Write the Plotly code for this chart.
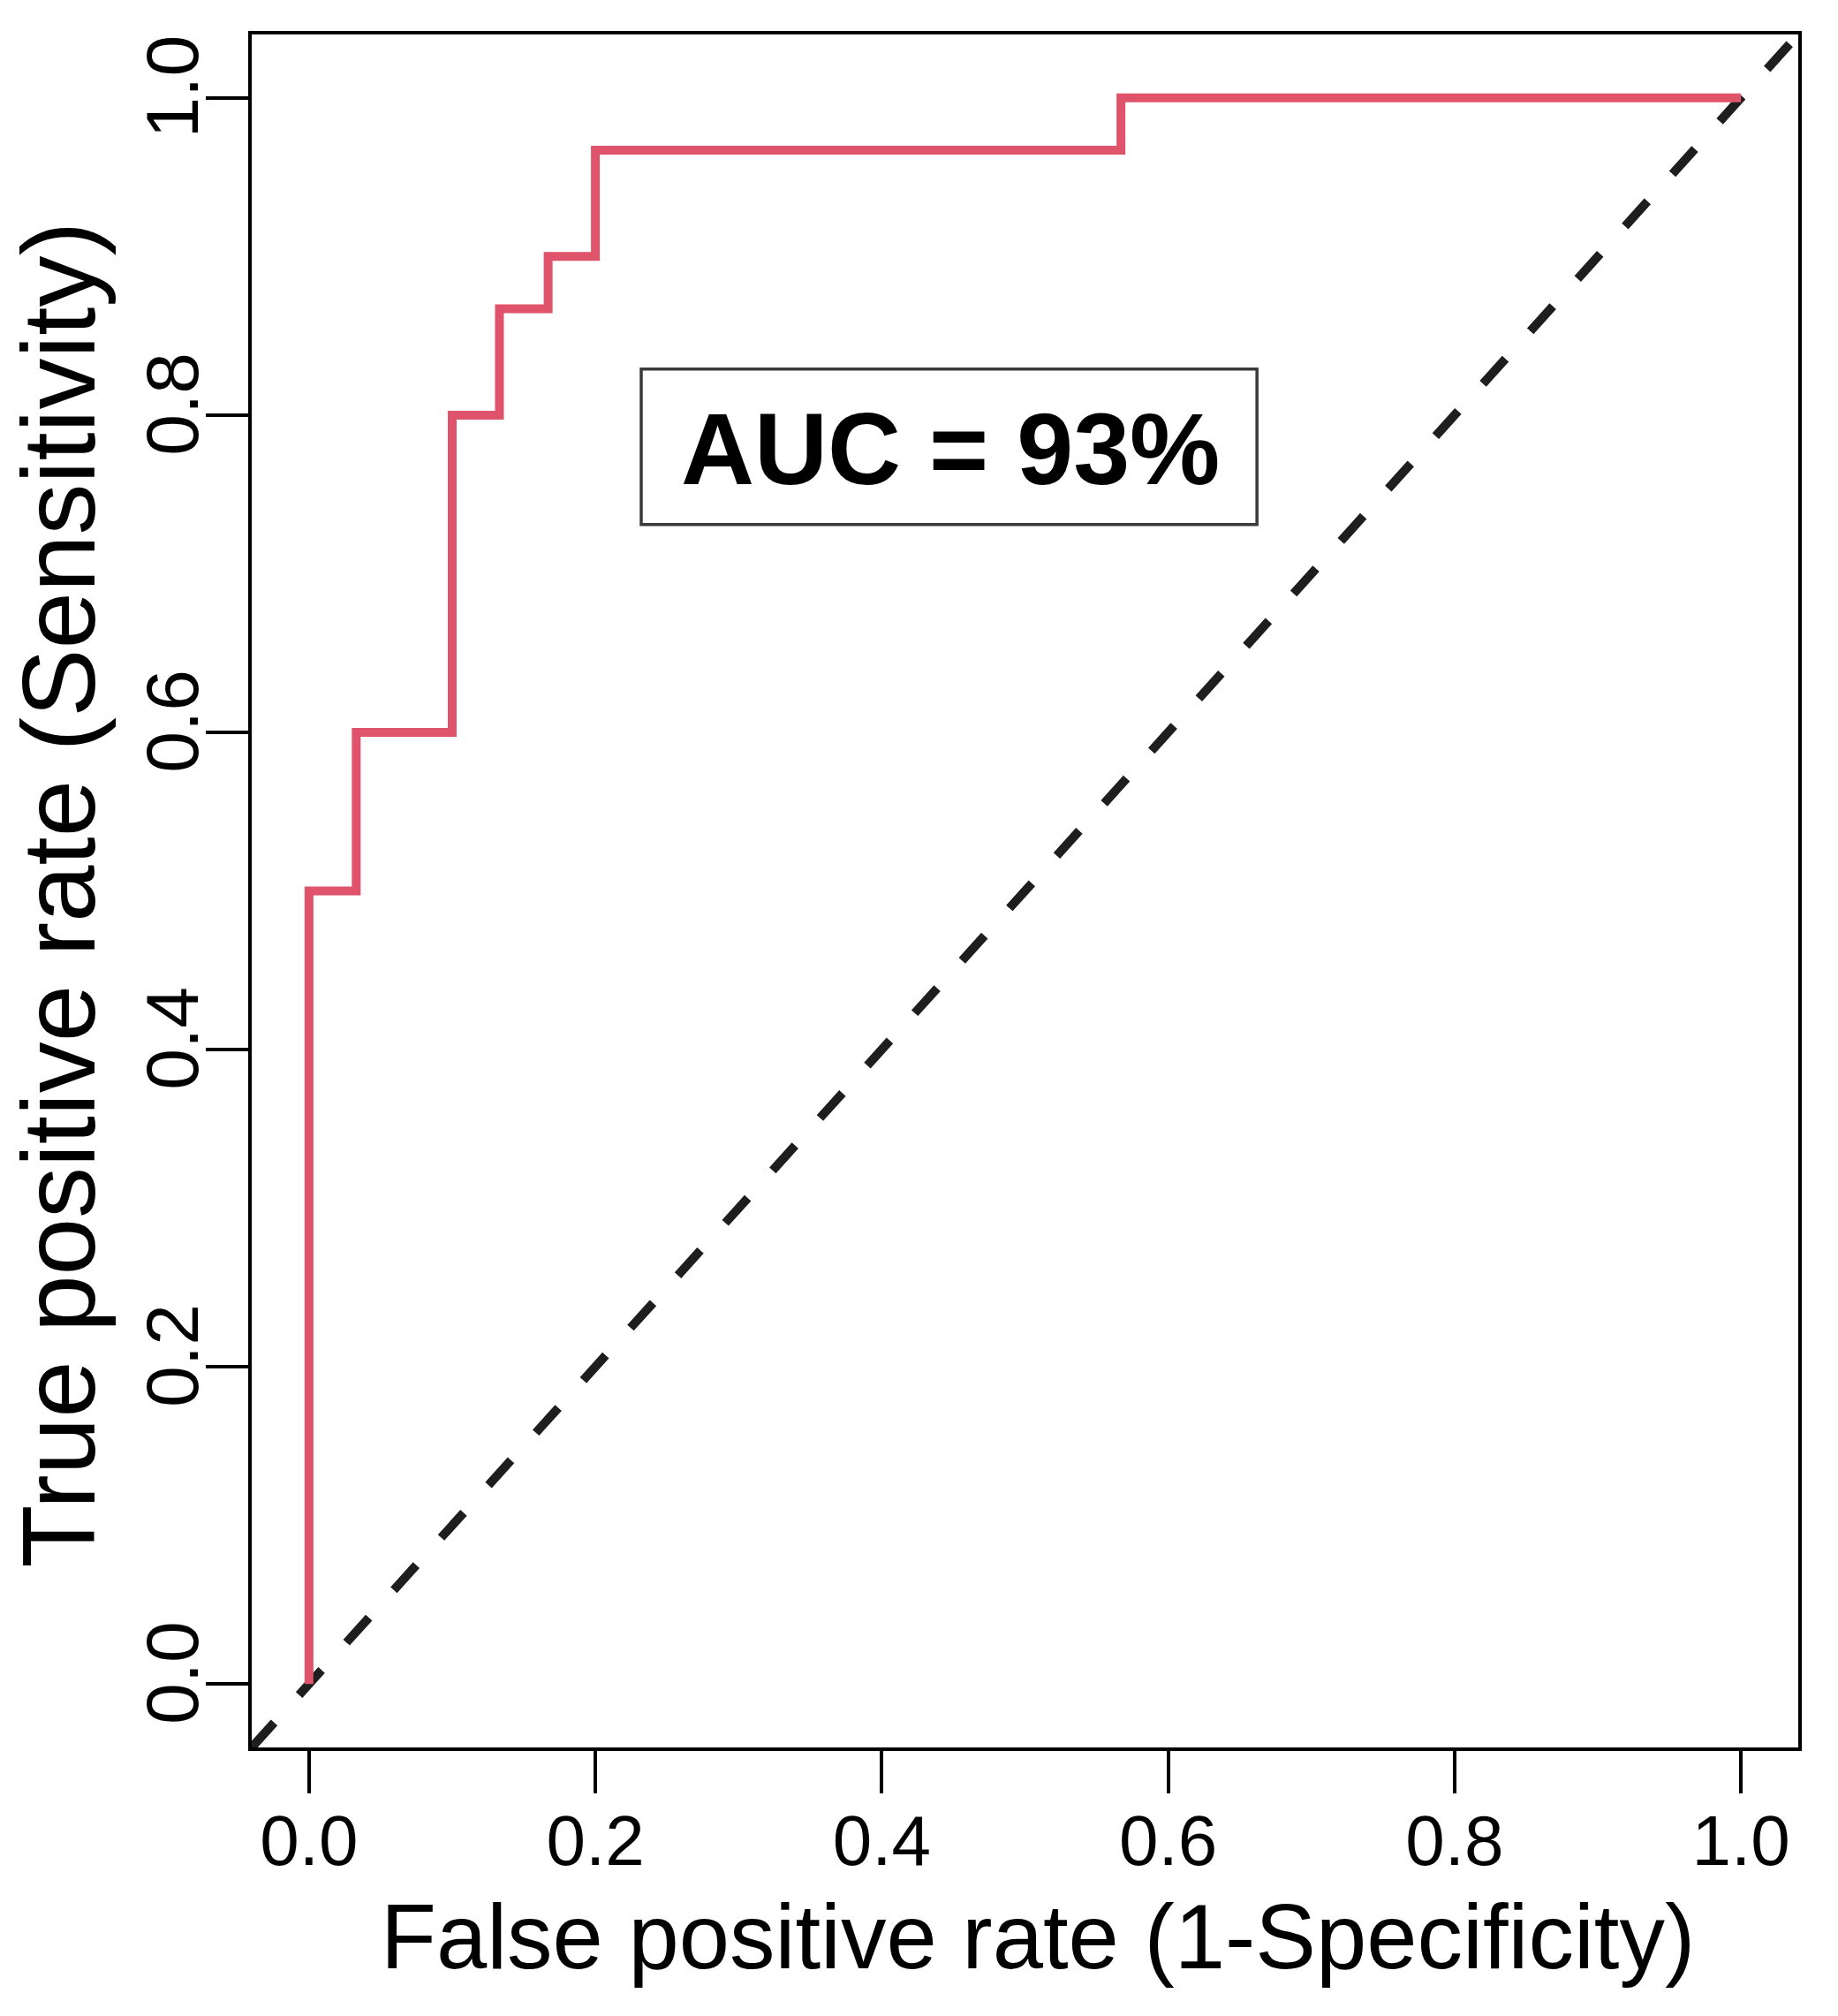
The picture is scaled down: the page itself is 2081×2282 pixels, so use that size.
import plotly.graph_objects as go

# ROC curve points (false positive rate, true positive rate)
fpr = [0.0, 0.0, 0.033, 0.1, 0.133, 0.167, 0.2, 0.567, 1.0]
tpr = [0.0, 0.5, 0.6, 0.8, 0.867, 0.9, 0.967, 1.0, 1.0]

tick_vals = [0.0, 0.2, 0.4, 0.6, 0.8, 1.0]
tick_text = ["0.0", "0.2", "0.4", "0.6", "0.8", "1.0"]

axis_range = [-0.04, 1.04]
auc_label = "AUC = 93%"
x_title = "False positive rate (1-Specificity)"
y_title = "True positive rate (Sensitivity)"

FONT = "Liberation Sans, Arial, Helvetica, sans-serif"
W, H = 2081, 2282

fig = go.Figure()

# chance diagonal (abline 0,1 across the plotting region)
fig.add_trace(go.Scatter(
    x=axis_range, y=axis_range, mode="lines",
    line=dict(color="#1e1e1e", width=10, dash="38px,42px"),
    hoverinfo="skip", showlegend=False,
))

# ROC step curve
fig.add_trace(go.Scatter(
    x=fpr, y=tpr, mode="lines",
    line=dict(color="#DF536B", width=10, shape="hv"),
    showlegend=False,
))

# AUC box
fig.add_shape(type="rect", xref="x", yref="y",
              x0=0.232, x1=0.662, y0=0.731, y1=0.829,
              line=dict(color="#3a3a3a", width=3.5), fillcolor="rgba(0,0,0,0)")
fig.add_annotation(x=0.448, y=0.779, xref="x", yref="y",
                   text="<b>" + auc_label + "</b>", showarrow=False,
                   xanchor="center", yanchor="middle",
                   font=dict(family=FONT, size=115, color="black"))

# axis titles
fig.add_annotation(x=0.5, y=0, xref="paper", yref="paper",
                   xshift=14, yshift=-214, text=x_title, showarrow=False,
                   xanchor="center", yanchor="middle",
                   font=dict(family=FONT, size=103, color="black"))
fig.add_annotation(x=0, y=0.5, xref="paper", yref="paper",
                   xshift=-219, yshift=-4, text=y_title, showarrow=False,
                   textangle=-90, xanchor="center", yanchor="middle",
                   font=dict(family=FONT, size=116, color="black"))

axis_common = dict(
    range=axis_range, tickvals=tick_vals, ticktext=tick_text,
    ticks="outside", ticklen=48, tickwidth=3.5, tickcolor="black",
    showline=True, linecolor="black", linewidth=4, mirror=True,
    showgrid=False, zeroline=False,
)

fig.update_xaxes(**axis_common, ticklabelstandoff=-15,
                 tickfont=dict(family=FONT, size=80, color="black"))
fig.update_yaxes(**axis_common, tickangle=-90, ticklabelstandoff=-25,
                 tickfont=dict(family=FONT, size=84, color="black"))

fig.update_layout(
    width=W, height=H,
    margin=dict(l=285, r=45, t=39, b=304, autoexpand=False),
    plot_bgcolor="white", paper_bgcolor="white",
    font=dict(family=FONT, color="black"),
)

fig.write_html("out.html", config={"displayModeBar": False},
               post_script="document.body.style.margin='0';document.body.style.overflow='hidden';")
